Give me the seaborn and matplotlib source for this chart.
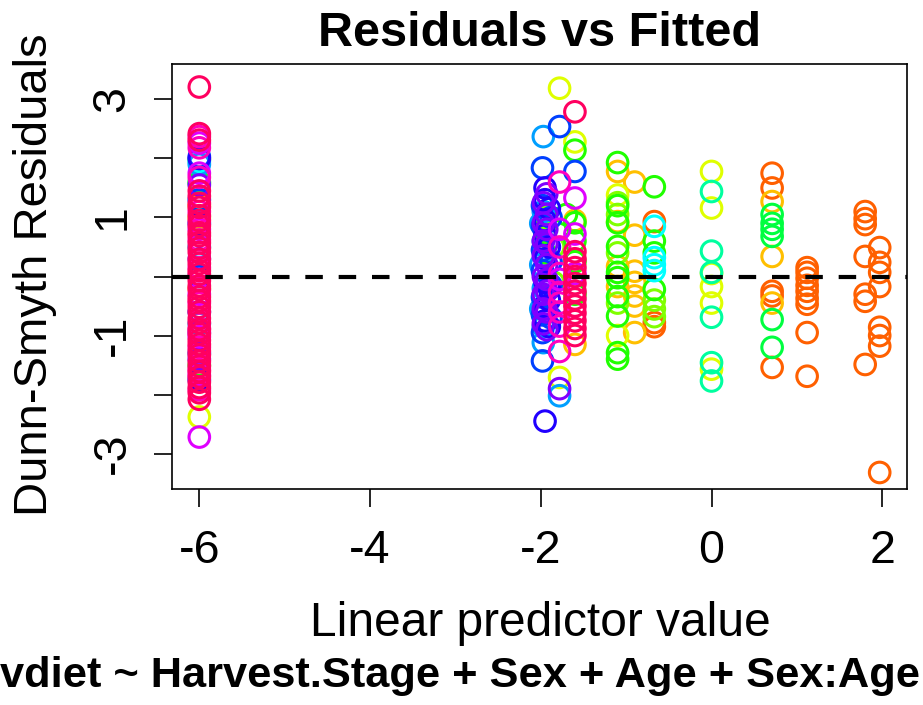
import matplotlib
matplotlib.use("Agg")
import matplotlib.pyplot as plt
import pandas as pd
import seaborn as sns

# R rainbow(16) palette, one colour per species
species_colors = ["#FF0000", "#FF6000", "#FFBF00", "#DFFF00", "#80FF00", "#20FF00",
                  "#00FF40", "#00FF9F", "#00FFFF", "#009FFF", "#0040FF", "#2000FF",
                  "#8000FF", "#DF00FF", "#FF00BF", "#FF0060"]

# residuals per species, keyed by linear predictor value
sp01 = {-0.67: [0.93, -0.78, -0.85],
        0.71: [1.75, 1.5, -0.25, -0.33, -1.54],
        1.12: [0.15, 0.07, -0.03, -0.15, -0.25, -0.37, -0.47, -0.95, -1.69],
        1.80: [1.1, 0.98, 0.88, 0.34, -0.3, -0.42, -1.49],
        1.97: [0.49, 0.24, 0.07, -0.17, -0.86, -1.0, -1.18, -3.32]}
sp02 = {-6.0: [1.2, -0.2],
        -1.6: [-1.15, 0.95],
        -1.1: [1.78, 0.93, 0.17, -0.17],
        -0.9: [1.6, 0.7, 0.09, -0.1, -0.33, -0.5, -0.95],
        0.71: [1.27, 0.34, -0.45]}
sp03 = {-6.0: [-2.38, 1.0],
        -1.78: [3.19, -1.71],
        -1.6: [2.28],
        -1.1: [1.38, -1.0],
        0.0: [1.78, 1.16, 0.05, -0.17, -0.45, -1.57]}
sp04 = {-6.0: [1.58],
        -1.95: [0.75, 1.0],
        -1.85: [0.5, -0.1],
        -1.1: [1.25, 1.05, 0.4, -0.45],
        -0.67: [-0.4, -0.55, -0.68]}
sp05 = {-6.0: [1.98, -1.5],
        -1.95: [0.4],
        -1.7: [1.05],
        -1.6: [2.14, 0.91, 0.6, 0.25, -0.3],
        -1.1: [1.93, 1.2, 0.91, 0.51, 0.07, -0.02, -0.34, -0.67, -1.29, -1.4],
        -0.67: [1.52, 0.6, 0.4, -0.22]}
sp06 = {-6.0: [1.6],
        0.71: [1.05, 0.9, 0.8, 0.68, -0.73, -1.2]}
sp07 = {0.0: [1.44, 0.43, 0.07, -0.69, -1.46, -1.77]}
sp08 = {-6.0: [1.95],
        -0.67: [0.85, 0.32, 0.2, 0.1]}
sp09 = {-6.0: [1.9, 0.5, -0.8],
        -2.0: [0.9, 0.2, -0.55],
        -1.97: [2.37, 1.1, 0.6, -0.2, -0.85, -1.12],
        -1.78: [-2.02]}
sp10 = {-6.0: [2.03, 1.3, 0.0, -1.3],
        -1.98: [1.84, 1.2, 0.85, 0.45, 0.1, -0.35, -0.65, -0.95, -1.43],
        -1.88: [1.0, 0.25, -0.15, -0.7],
        -1.78: [2.54],
        -1.6: [1.78]}
sp11 = {-6.0: [2.0, 0.9, -0.6, -1.75],
        -1.95: [1.5, 1.3, 0.95, 0.7, 0.3, -0.1, -0.5, -0.75, -2.45],
        -1.9: [1.15, 0.5, -0.2, -0.4, -0.85]}
sp12 = {-6.0: [1.55, 0.3, -0.95, -1.4],
        -1.97: [1.25, 0.9, 0.6, 0.35, 0.0, -0.3, -0.55, -0.8],
        -1.93: [1.4, 1.05, 0.8, 0.55, 0.2, -0.05, -0.25, -0.6, -0.9],
        -1.78: [-1.9]}
sp13 = {-6.0: [2.26, 1.75, 0.8, -0.3, -1.02, -1.67, -2.72],
        -1.78: [0.8, -0.05],
        -1.6: [1.33, 0.72, 0.05]}
sp14 = {-6.0: [2.37, 2.18, 1.68, 1.1, 0.62, 0.15, -0.45, -0.88, -1.2, -1.58, -1.92],
        -1.78: [1.6, 0.5, 0.05, -0.27, -0.45, -0.6, -0.84, -1.27]}
sp15 = {-6.0: [3.21, 2.42, 2.31, 1.45, 1.36, 1.24, 1.17, 1.03, 0.95, 0.86, 0.74, 0.69,
               0.57, 0.48, 0.41, 0.29, 0.22, 0.1, 0.04, -0.07, -0.16, -0.22, -0.35,
               -0.41, -0.52, -0.6, -0.71, -0.78, -0.9, -0.97, -1.08, -1.15, -1.26,
               -1.33, -1.44, -1.52, -1.61, -1.7, -1.79, -1.88, -1.97, -2.08],
        -1.6: [2.79, 0.42, 0.3, 0.15, 0.0, -0.12, -0.25, -0.38, -0.5, -0.62, -0.75,
               -0.88, -1.0]}

species_list = [None, sp01, sp02, sp03, sp04, sp05, sp06, sp07, sp08, sp09, sp10,
                sp11, sp12, sp13, sp14, sp15]

rows = []
for i, sp in enumerate(species_list):
    if sp is None:
        continue
    for lp, vals in sp.items():
        for v in vals:
            rows.append({"lp": lp, "res": v, "sp": i})
df = pd.DataFrame(rows).sort_values("sp", kind="stable")

sns.set_style("white")
plt.rcParams["font.family"] = ["Liberation Sans", "DejaVu Sans"]
plt.rcParams["axes.unicode_minus"] = False
plt.rcParams["text.color"] = "black"

W, H = 923, 705
fig = plt.figure(figsize=(W / 100, H / 100), dpi=100)
L, R, T, B = 172, 907, 64, 489
ax = fig.add_axes([L / W, 1 - B / H, (R - L) / W, (B - T) / H])

pal = {i: species_colors[i] for i in range(16)}
sns.scatterplot(data=df, x="lp", y="res", hue="sp", palette=pal, s=220,
                linewidth=2.2, legend=False, ax=ax, zorder=2)
coll = ax.collections[0]
fc = coll.get_facecolors()
coll.set_edgecolors(fc)
coll.set_facecolors("none")
coll.set_linewidth(2.2)

ax.axhline(0, color="black", lw=3.0, ls=(0, (4.2, 3.8)), zorder=3)

ax.set_xlim(-6.32, 2.29)
ax.set_ylim(-3.6, 3.6)
ax.set_xticks([-6, -4, -2, 0, 2])
ax.set_xticklabels(["-6", "-4", "-2", "0", "2"])
ax.set_yticks([-3, -2, -1, 0, 1, 2, 3])
ax.set_yticklabels(["-3", "", "-1", "", "1", "", "3"], rotation=90, va="center")
ax.tick_params(axis="both", direction="out", length=13, width=1.2, labelsize=33.5,
               color="black", labelcolor="black", bottom=True, left=True)
ax.tick_params(axis="x", pad=16)
ax.tick_params(axis="y", pad=14)
ax.set_xlabel("")
ax.set_ylabel("")
for s in ax.spines.values():
    s.set_visible(True)
    s.set_color("black")
    s.set_linewidth(1.2)

fig.text(540 / W, 1 - 33 / H, "Residuals vs Fitted", ha="center", va="center",
         fontsize=35, fontweight="bold", color="black")
fig.text(540 / W, 1 - 623 / H, "Linear predictor value", ha="center", va="center",
         fontsize=34.5, color="black")
fig.text(35 / W, 1 - 275 / H, "Dunn-Smyth Residuals", ha="center", va="center",
         rotation=90, fontsize=34, color="black")
fig.text(920 / W, 1 - 676 / H, "vdiet ~ Harvest.Stage + Sex + Age + Sex:Age",
         ha="right", va="center", fontsize=31.2, fontweight="bold", color="black")

fig.savefig("out.png", dpi=100, facecolor="white")
